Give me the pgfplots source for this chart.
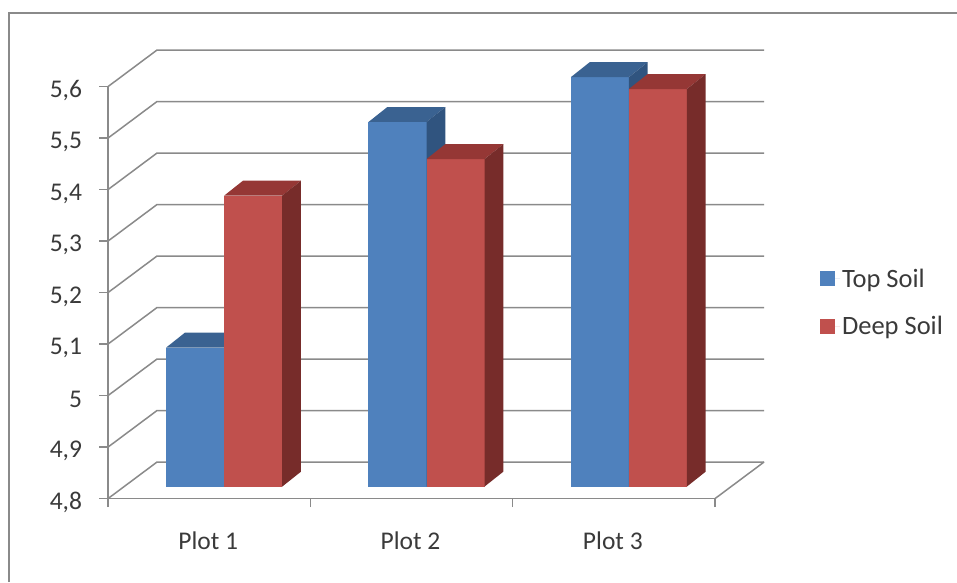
\documentclass[border=0pt]{standalone}
\usepackage{pgfplots}
\pgfplotsset{compat=1.18}
\usepackage{fontspec}
\setmainfont{Carlito}
\definecolor{rule}{HTML}{8A8A8A}
\definecolor{label}{HTML}{3A3A3A}
\definecolor{bluefront}{HTML}{4F81BD}
\definecolor{bluetop}{HTML}{3A6291}
\definecolor{blueside}{HTML}{30547F}
\definecolor{redfront}{HTML}{C0504D}
\definecolor{redtop}{HTML}{953735}
\definecolor{redside}{HTML}{772C2A}

% One box: left, right, left+depth, right+depth, value, value+depth, colour stem
\newcommand\drawbox[7]{%
  \addplot[fill=#7front, draw=none] coordinates {(#1,4.8) (#2,4.8) (#2,#5) (#1,#5)} --cycle;
  \addplot[fill=#7top, draw=none, forget plot] coordinates {(#1,#5) (#2,#5) (#4,#6) (#3,#6)} --cycle;
  \addplot[fill=#7side, draw=none, forget plot] coordinates {(#2,4.8) (#4,4.829) (#4,#6) (#2,#5)} --cycle;
}
\newcommand\wall[2]{%
  \addplot[rule, line width=1.5pt, forget plot] coordinates {(0,#1) (0.2422,#2) (3.2422,#2)};
}

\pgfplotsset{
  soil/.style={
    anchor=origin,
    scale only axis, width=607pt, height=412pt,
    xmin=0, xmax=3, ymin=4.8, ymax=5.6,
    clip=false,
  }
}

\begin{document}
\begin{tikzpicture}[x=1pt,y=1pt]
\path[use as bounding box] (0,0) rectangle (957,582);
% outer frame of the chart area
\draw[rule, line width=1.6pt] (9,0) -- (9,569) -- (957,569);

% walls, floor and axes
\begin{axis}[soil,
  at={(108pt,83.4pt)},
  axis x line=bottom, axis y line=left,
  axis line style={rule, line width=1.6pt, -},
  tick style={rule, line width=1.4pt},
  tick align=outside,
  major tick length=8.5pt,
  xtick={0,1,2,3},
  x tick label as interval=true,
  xticklabels={Plot 1,Plot 2,Plot 3},
  ytick={4.8,4.9,5,5.1,5.2,5.3,5.4,5.5,5.6},
  yticklabels={{4,8},{4,9},{5},{5,1},{5,2},{5,3},{5,4},{5,5},{5,6}},
  ticklabel style={font=\fontsize{25.5}{29}\selectfont, text=label},
  yticklabel style={xshift=-14pt, yshift=-4pt},
  xticklabel style={yshift=-21pt, xshift=-1pt},
]
\wall{4.8}{4.871}
\wall{4.9}{4.971}
\wall{5.0}{5.071}
\wall{5.1}{5.171}
\wall{5.2}{5.271}
\wall{5.3}{5.371}
\wall{5.4}{5.471}
\wall{5.5}{5.571}
\wall{5.6}{5.671}
\addplot[rule, line width=1.5pt, forget plot] coordinates {(3,4.8) (3.2422,4.871)};
\end{axis}

% soil pH boxes, set slightly inside the floor
\begin{axis}[soil,
  at={(123pt,95.4pt)},
  hide axis,
  legend style={
    at={(697pt,220pt)}, anchor=north west,
    draw=none, fill=none,
    font=\fontsize{26.5}{30}\selectfont, text=label,
    row sep=24pt, inner sep=0pt, outer sep=0pt,
  },
  legend cell align=left,
  legend image code/.code={%
    \fill[#1] (0pt,-7.5pt) rectangle (15pt,7.5pt);
    \path (0pt,0pt) -- (20pt,0pt);
  },
  legend entries={Top Soil,Deep Soil},
]
\drawbox{0.2133}{0.5}{0.3063}{0.593}{5.07}{5.099}{blue}
\drawbox{0.5}{0.7867}{0.593}{0.8797}{5.365}{5.394}{red}
\drawbox{1.2133}{1.5}{1.3063}{1.593}{5.508}{5.537}{blue}
\drawbox{1.5}{1.7867}{1.593}{1.8797}{5.436}{5.465}{red}
\drawbox{2.2133}{2.5}{2.3063}{2.593}{5.595}{5.624}{blue}
\drawbox{2.5}{2.7867}{2.593}{2.8797}{5.572}{5.601}{red}
\end{axis}
\end{tikzpicture}
\end{document}
